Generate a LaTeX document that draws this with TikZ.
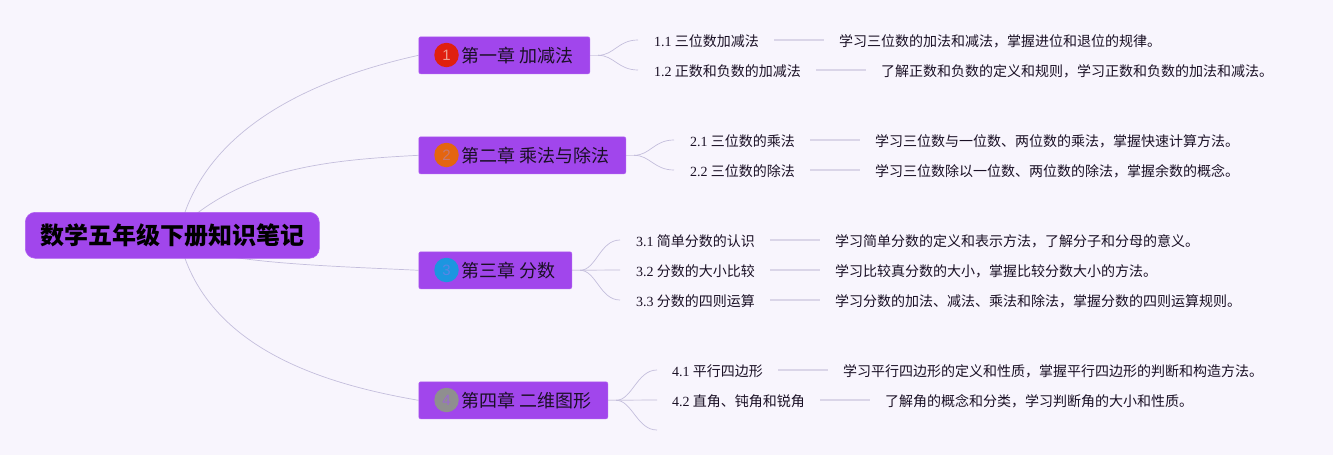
\documentclass[tikz,border=0pt]{standalone}
\usepackage{fontspec}
\setmainfont{Noto Sans CJK SC}
\newfontfamily\latf{Liberation Serif}
\newfontfamily\latsans{Liberation Sans}
\usetikzlibrary{backgrounds}
\definecolor{bgc}{HTML}{F8F5FD}
\definecolor{purp}{HTML}{A146EC}
\definecolor{purpb}{HTML}{B060F0}
\definecolor{linec}{HTML}{C4BEDC}
\definecolor{stubc}{HTML}{DAD5E8}
\definecolor{inkc}{HTML}{1A1025}
\definecolor{bada}{HTML}{E0200F}
\definecolor{badb}{HTML}{E4650F}
\definecolor{badc}{HTML}{1C96E0}
\definecolor{badd}{HTML}{8F8F8F}
\definecolor{numa}{HTML}{EE9E90}
\definecolor{numb}{HTML}{C8786E}
\definecolor{numc}{HTML}{5A85E6}
\definecolor{numd}{HTML}{9A6CCC}
\tikzset{
  x=1pt,y=-1pt,
  rootbox/.style={fill=purp,draw=purpb,line width=0.6pt,rounded corners=10pt,anchor=north west,inner sep=0pt,minimum width=294pt,minimum height=46pt,text=black,font=\fontsize{24}{28}\selectfont\bfseries},
  chapbox/.style={fill=purp,draw=purpb,line width=0.6pt,rounded corners=2pt,anchor=north west,inner sep=0pt,minimum height=37pt},
  chaptext/.style={anchor=west,inner sep=0pt,text=inkc,font=\fontsize{18}{20}\selectfont},
  badge/.style={circle,inner sep=0pt,minimum size=24.5pt,font=\latsans\fontsize{15}{15}\selectfont},
  leaf/.style={anchor=west,inner sep=0pt,text=inkc,font=\fontsize{14}{16}\selectfont},
  link/.style={draw=linec,line width=0.7pt},
  stub/.style={draw=stubc,line width=1.2pt},
}
\begin{document}
\begin{tikzpicture}
\useasboundingbox (0,0) rectangle (1333,455);
% chapters
\node[rootbox] (root) at (25,212) {数学五年级下册知识笔记};
\node[chapbox,minimum width=171pt] (c1) at (418.5,36.5) {};
\node[chapbox,minimum width=207pt] (c2) at (418.5,136.5) {};
\node[chapbox,minimum width=153pt] (c3) at (418.5,251.5) {};
\node[chapbox,minimum width=189pt] (c4) at (418.5,381.5) {};
\node[badge,fill=bada,text=numa] (b1) at (446.5,55) {1};
\node[badge,fill=badb,text=numb] (b2) at (446.5,155) {2};
\node[badge,fill=badc,text=numc] (b3) at (446.5,270) {3};
\node[badge,fill=badd,text=numd] (b4) at (446.5,400) {4};
\node[chaptext] (t1) at (461,56) {第一章 加减法};
\node[chaptext] (t2) at (461,156) {第二章 乘法与除法};
\node[chaptext] (t3) at (461,271) {第三章 分数};
\node[chaptext] (t4) at (461,401) {第四章 二维图形};
% leaves
\node[leaf] (l11) at (654,41.5) {{\latf 1.1} 三位数加减法};
\node[leaf] (l12) at (654,71.5) {{\latf 1.2} 正数和负数的加减法};
\node[leaf] (l21) at (690,141.5) {{\latf 2.1} 三位数的乘法};
\node[leaf] (l22) at (690,171.5) {{\latf 2.2} 三位数的除法};
\node[leaf] (l31) at (636,241.5) {{\latf 3.1} 简单分数的认识};
\node[leaf] (l32) at (636,271.5) {{\latf 3.2} 分数的大小比较};
\node[leaf] (l33) at (636,301.5) {{\latf 3.3} 分数的四则运算};
\node[leaf] (l41) at (672,371.5) {{\latf 4.1} 平行四边形};
\node[leaf] (l42) at (672,401.5) {{\latf 4.2} 直角、钝角和锐角};
\coordinate (l43) at (657,430);
\node[leaf] (d11) at (839,41.5) {学习三位数的加法和减法，掌握进位和退位的规律。};
\node[leaf] (d12) at (881,71.5) {了解正数和负数的定义和规则，学习正数和负数的加法和减法。};
\node[leaf] (d21) at (875,141.5) {学习三位数与一位数、两位数的乘法，掌握快速计算方法。};
\node[leaf] (d22) at (875,171.5) {学习三位数除以一位数、两位数的除法，掌握余数的概念。};
\node[leaf] (d31) at (835,241.5) {学习简单分数的定义和表示方法，了解分子和分母的意义。};
\node[leaf] (d32) at (835,271.5) {学习比较真分数的大小，掌握比较分数大小的方法。};
\node[leaf] (d33) at (835,301.5) {学习分数的加法、减法、乘法和除法，掌握分数的四则运算规则。};
\node[leaf] (d41) at (843,371.5) {学习平行四边形的定义和性质，掌握平行四边形的判断和构造方法。};
\node[leaf] (d42) at (885,401.5) {了解角的概念和分类，学习判断角的大小和性质。};
\begin{scope}[on background layer]
\fill[bgc] (0,0) rectangle (1333,455);
\draw[link] (root.center) ++(8,-8) .. controls +(28,-108) and (330,75) .. (c1.west);
\draw[link] (root.center) ++(8,-8) .. controls +(65,-60) and (330,160) .. (c2.west);
\draw[link] (root.center) ++(8,8) .. controls +(40,20) and (330,266) .. (c3.west);
\draw[link] (root.center) ++(8,8) .. controls +(28,108) and (330,385) .. (c4.west);
% branches
\draw[stub] (c1.east) -- ++(10,0);
\draw[link] (c1.east) ++(8,0) .. controls +(16,0) and (618,40) .. (638,40);
\draw[link] (c1.east) ++(8,0) .. controls +(16,0) and (618,70) .. (638,70);
\draw[stub] (c2.east) -- ++(10,0);
\draw[link] (c2.east) ++(8,0) .. controls +(16,0) and (654,140) .. (674,140);
\draw[link] (c2.east) ++(8,0) .. controls +(16,0) and (654,170) .. (674,170);
\draw[stub] (c3.east) -- (620,270);
\draw[link] (c3.east) ++(8,0) .. controls +(16,0) and (600,240) .. (620,240);
\draw[link] (c3.east) ++(8,0) .. controls +(16,0) and (600,300) .. (620,300);
\draw[stub] (c4.east) -- (657,400);
\draw[link] (c4.east) ++(8,0) .. controls +(16,0) and (637,370) .. (657,370);
\draw[link] (c4.east) ++(8,0) .. controls +(16,0) and (637,430) .. (l43);
% leaf to detail
\draw[stub] (l11.east) ++(15,-1.5) -- ++(50,0);
\draw[stub] (l12.east) ++(15,-1.5) -- ++(50,0);
\draw[stub] (l21.east) ++(15,-1.5) -- ++(50,0);
\draw[stub] (l22.east) ++(15,-1.5) -- ++(50,0);
\draw[stub] (l31.east) ++(15,-1.5) -- ++(50,0);
\draw[stub] (l32.east) ++(15,-1.5) -- ++(50,0);
\draw[stub] (l33.east) ++(15,-1.5) -- ++(50,0);
\draw[stub] (l41.east) ++(15,-1.5) -- ++(50,0);
\draw[stub] (l42.east) ++(15,-1.5) -- ++(50,0);
\end{scope}
\end{tikzpicture}
\end{document}
